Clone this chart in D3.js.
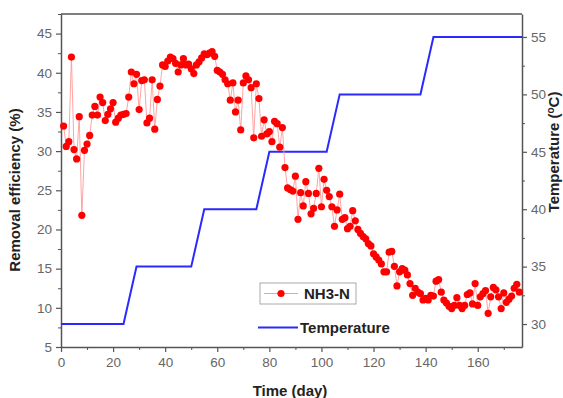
<!DOCTYPE html>
<html><head><meta charset="utf-8">
<script src="https://cdn.jsdelivr.net/npm/d3@7"></script>
<style>body{margin:0;background:#fff;}svg{display:block;font-family:"Liberation Sans",Arial,sans-serif;}</style>
</head><body><svg id="c" width="563" height="398"></svg>
<script>
const nhDays = [1,2,3,4,5,6,7,8,9,10,11,12,13,14,15,16,17,18,19,20,21,22,23,24,25,26,27,28,29,30,31,32,33,34,35,36,37,38,39,40,41,42,43,44,45,46,47,48,49,50,51,52,53,54,55,56,57,58,59,60,61,62,63,64,65,66,67,68,69,70,71,72,73,74,75,76,77,78,79,80,81,82,83,84,85,86,87,88,89,90,91,92,93,94,95,96,97,98,99,100,101,102,103,104,105,106,107,108,109,110,111,112,113,114,115,116,117,118,119,120,121,122,123,124,125,126,127,128,129,130,131,132,133,134,135,136,137,138,139,140,141,142,143,144,145,146,147,148,149,150,151,152,153,154,155,156,157,158,159,160,161,162,163,164,165,166,167,168,169,170,171,172,173,174,175,176];
const nhValues = [33.2,30.6,31.2,42.0,30.2,29.0,34.4,21.8,30.1,30.9,32.0,34.6,35.7,34.6,36.9,36.2,33.9,34.7,35.4,36.2,33.7,34.2,34.6,34.7,34.8,36.9,40.1,38.6,39.8,35.3,39.0,39.1,33.6,34.2,39.1,32.8,36.6,38.3,41.0,40.8,41.5,42.0,41.8,41.2,40.1,41.0,41.8,41.0,41.1,40.5,39.9,41.0,41.4,41.9,42.4,42.3,42.5,42.7,42.1,40.3,40.1,39.8,39.1,38.6,36.5,38.7,35.0,36.5,32.7,38.7,39.6,39.1,38.1,31.7,38.6,36.7,31.9,34.0,32.2,32.5,31.2,33.8,33.5,30.5,33.0,27.9,25.3,25.1,24.9,26.8,21.3,24.7,23.0,26.1,24.6,22.0,22.7,24.6,27.8,22.9,26.4,25.0,24.2,22.9,20.4,22.5,24.5,21.3,21.5,20.1,20.4,22.4,21.1,20.0,19.5,19.1,18.8,18.2,17.9,16.9,16.5,16.1,15.6,14.6,14.6,17.1,17.2,15.3,12.8,14.6,15.0,14.8,14.2,13.1,11.6,12.5,12.0,11.8,11.0,11.2,11.0,11.6,11.5,13.4,13.6,12.0,11.0,10.6,10.2,9.9,10.3,11.3,10.3,9.9,10.3,11.7,11.9,10.5,13.1,10.3,11.4,11.8,12.2,9.3,11.4,12.6,12.3,11.4,9.9,11.9,10.7,11.1,11.5,12.5,13.0,12.0,11.8];
const tempDays = [0,24,29,50,55,75,80,102,107,138,143,177];
const tempValues = [30,30,35,35,40,40,45,45,50,50,55,55];
const xTicks = [0,20,40,60,80,100,120,140,160];
const yLeftTicks = [5,10,15,20,25,30,35,40,45];
const yRightTicks = [30,35,40,45,50,55];
const labels = {x:"Time (day)", yLeft:"Removal efficiency (%)", yRight:"Temperature (", series1:"NH3-N", series2:"Temperature"};

const svg = d3.select("#c");
const L=61, R=522, T=14, B=347;
const x = d3.scaleLinear().domain([0,177]).range([L,R]);
const yl = d3.scaleLinear().domain([5,47.5]).range([B,T]);
const yr = d3.scaleLinear().domain([28,57]).range([B,T]);
const axisCol = "#555", tickTxt = "#666";

// frame top
svg.append("line").attr("x1",L).attr("x2",R).attr("y1",T).attr("y2",T).attr("stroke",axisCol).attr("stroke-width",1.5);

function styleAxis(g){
  g.select(".domain").attr("stroke",axisCol).attr("stroke-width",1.5);
  g.selectAll(".tick line").attr("stroke",axisCol).attr("stroke-width",1.2);
  g.selectAll(".tick text").attr("fill",tickTxt).attr("font-size","13.5px").attr("font-family","Liberation Sans, Arial, sans-serif");
}
// minor ticks
const gxm = svg.append("g").attr("transform",`translate(0,${B})`).call(d3.axisBottom(x).tickValues(d3.range(10,177,20)).tickSize(3).tickFormat("").tickSizeOuter(0));
gxm.select(".domain").remove(); gxm.selectAll("line").attr("stroke",axisCol);
const gx = svg.append("g").attr("transform",`translate(0,${B})`).call(d3.axisBottom(x).tickValues(xTicks).tickSize(5).tickSizeOuter(0).tickPadding(5));
styleAxis(gx);

const glm = svg.append("g").attr("transform",`translate(${L},0)`).call(d3.axisLeft(yl).tickValues(d3.range(7.5,47.6,5)).tickSize(3).tickFormat("").tickSizeOuter(0));
glm.select(".domain").remove(); glm.selectAll("line").attr("stroke",axisCol);
const gl = svg.append("g").attr("transform",`translate(${L},0)`).call(d3.axisLeft(yl).tickValues(yLeftTicks).tickSize(5).tickSizeOuter(0).tickPadding(4));
styleAxis(gl);

const grm = svg.append("g").attr("transform",`translate(${R},0)`).call(d3.axisRight(yr).tickValues(d3.range(32.5,56,5)).tickSize(3).tickFormat("").tickSizeOuter(0));
grm.select(".domain").remove(); grm.selectAll("line").attr("stroke",axisCol);
const gr = svg.append("g").attr("transform",`translate(${R},0)`).call(d3.axisRight(yr).tickValues(yRightTicks).tickSize(5).tickSizeOuter(0).tickPadding(4));
styleAxis(gr);

// temperature line
svg.append("path").datum(tempDays.map((d,i)=>[d,tempValues[i]]))
  .attr("d", d3.line().x(d=>x(d[0])).y(d=>yr(d[1])))
  .attr("fill","none").attr("stroke","#2a2aff").attr("stroke-width",2);

// NH3-N series
const nh = nhDays.map((d,i)=>[d,nhValues[i]]);
svg.append("path").datum(nh).attr("d", d3.line().x(d=>x(d[0])).y(d=>yl(d[1])))
  .attr("fill","none").attr("stroke","#ff9a9a").attr("stroke-width",0.9);
svg.append("g").selectAll("circle").data(nh).join("circle")
  .attr("cx",d=>x(d[0])).attr("cy",d=>yl(d[1])).attr("r",3.6).attr("fill","#ff0000");

// axis titles
svg.append("text").attr("x",290).attr("y",396).attr("text-anchor","middle").attr("font-weight","bold").attr("font-size","15px").attr("fill","#222").text(labels.x);
svg.append("text").attr("transform","translate(20,190) rotate(-90)").attr("text-anchor","middle").attr("font-weight","bold").attr("font-size","15px").attr("fill","#222").text(labels.yLeft);
const rt = svg.append("text").attr("transform","translate(559,152) rotate(-90)").attr("text-anchor","middle").attr("font-weight","bold").attr("font-size","15px").attr("fill","#222");
rt.append("tspan").text(labels.yRight);
rt.append("tspan").attr("dy",-5).attr("font-size","10px").text("o");
rt.append("tspan").attr("dy",5).text("C)");

// legend
svg.append("rect").attr("x",260).attr("y",283).attr("width",96).attr("height",21).attr("fill","#fff").attr("stroke","#aaa");
svg.append("line").attr("x1",264).attr("x2",298).attr("y1",293.5).attr("y2",293.5).attr("stroke","#ff9a9a").attr("stroke-width",1);
svg.append("circle").attr("cx",281).attr("cy",293.5).attr("r",3.6).attr("fill","#ff0000");
svg.append("text").attr("x",304).attr("y",299).attr("font-weight","bold").attr("font-size","15px").attr("fill","#222").text(labels.series1);
svg.append("line").attr("x1",258).attr("x2",298).attr("y1",327.5).attr("y2",327.5).attr("stroke","#2a2aff").attr("stroke-width",2);
svg.append("text").attr("x",300).attr("y",333).attr("font-weight","bold").attr("font-size","15px").attr("fill","#222").text(labels.series2);
</script></body></html>
